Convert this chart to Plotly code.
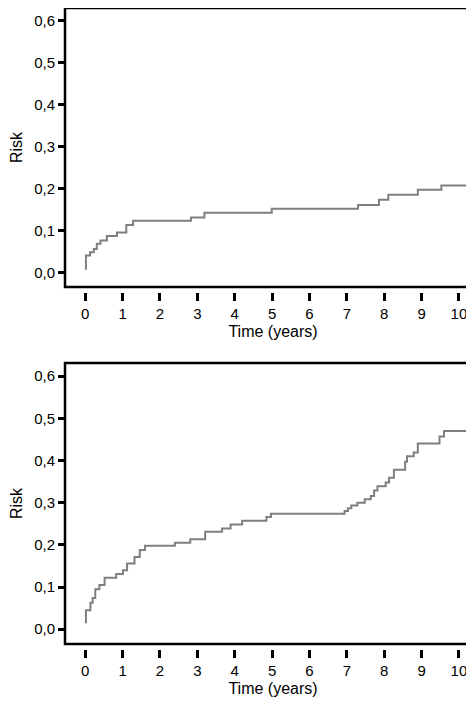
import plotly.graph_objects as go

t_top = [0.02, 0.02, 0.13, 0.23, 0.31, 0.41, 0.58, 0.85, 1.10, 1.28, 2.83, 3.19, 4.99, 7.30, 7.86, 8.11, 8.90, 9.53, 10.6]
r_top = [0.006, 0.040, 0.048, 0.056, 0.068, 0.076, 0.087, 0.095, 0.113, 0.123, 0.131, 0.142, 0.152, 0.161, 0.173, 0.185, 0.197, 0.207, 0.207]

t_bot = [0.02, 0.02, 0.14, 0.20, 0.27, 0.38, 0.52, 0.83, 1.01, 1.12, 1.32, 1.46, 1.60, 2.40, 2.81, 3.21, 3.66, 3.89, 4.20, 4.85, 4.97,
         6.94, 7.03, 7.12, 7.28, 7.48, 7.64, 7.73, 7.82, 8.04, 8.13, 8.26, 8.56, 8.61, 8.79, 8.90, 9.48, 9.60, 10.41, 10.6]
r_bot = [0.014, 0.045, 0.063, 0.074, 0.095, 0.105, 0.122, 0.131, 0.140, 0.156, 0.171, 0.188, 0.198, 0.205, 0.213, 0.231, 0.239, 0.248, 0.257, 0.266, 0.274,
         0.280, 0.287, 0.293, 0.300, 0.308, 0.316, 0.329, 0.339, 0.348, 0.359, 0.378, 0.397, 0.410, 0.419, 0.440, 0.457, 0.470, 0.482, 0.482]

x_ticks = list(range(0, 11))
y_ticks = [0.0, 0.1, 0.2, 0.3, 0.4, 0.5, 0.6]

W, H = 474, 704
fig = go.Figure()
fig.add_trace(go.Scatter(x=t_top, y=r_top, mode="lines", line=dict(shape="hv", color="#7f7f7f", width=2), xaxis="x", yaxis="y", showlegend=False))
fig.add_trace(go.Scatter(x=t_bot, y=r_bot, mode="lines", line=dict(shape="hv", color="#7f7f7f", width=2), xaxis="x2", yaxis="y2", showlegend=False))

font = dict(family="Liberation Sans, Arial", size=15, color="black")
tfont = dict(family="Liberation Sans, Arial", size=16, color="black")
xl, xr = 57 / W, 473 / W
panels = [(0, 279, "", ""), (355, 636, "2", "2")]
for i, (top, bot, sx, sy) in enumerate(panels):
    d = [1 - bot / H, 1 - top / H]
    xa = dict(domain=[xl, xr], range=[-0.54, 10.59], anchor="free", position=1 - (bot + 5) / H,
              tickvals=x_ticks, ticks="outside", ticklen=8, tickwidth=2.5, tickcolor="black",
              showline=False, showgrid=False, zeroline=False, tickfont=font,
              title=dict(text="Time (years)", font=tfont, standoff=4))
    ya = dict(domain=d, range=[-0.035, 0.631], anchor="x" + sx if sx else "x",
              tickvals=y_ticks, ticktext=[f"{v:.1f}".replace(".", ",") for v in y_ticks],
              ticks="outside", ticklen=6, tickwidth=2.5, tickcolor="black",
              showline=False, showgrid=False, zeroline=False, tickfont=font,
              title=dict(text="Risk", font=tfont, standoff=8))
    fig.layout["xaxis" + sx] = xa
    fig.layout["yaxis" + sy] = ya
    fig.add_shape(type="rect", xref="paper", yref="paper", x0=xl, x1=xr + 0.01, y0=d[0], y1=d[1],
                  line=dict(color="black", width=2.5))

fig.update_layout(width=W, height=H, margin=dict(l=0, r=0, t=0, b=0),
                  plot_bgcolor="white", paper_bgcolor="white")
fig.write_html("out.html")
